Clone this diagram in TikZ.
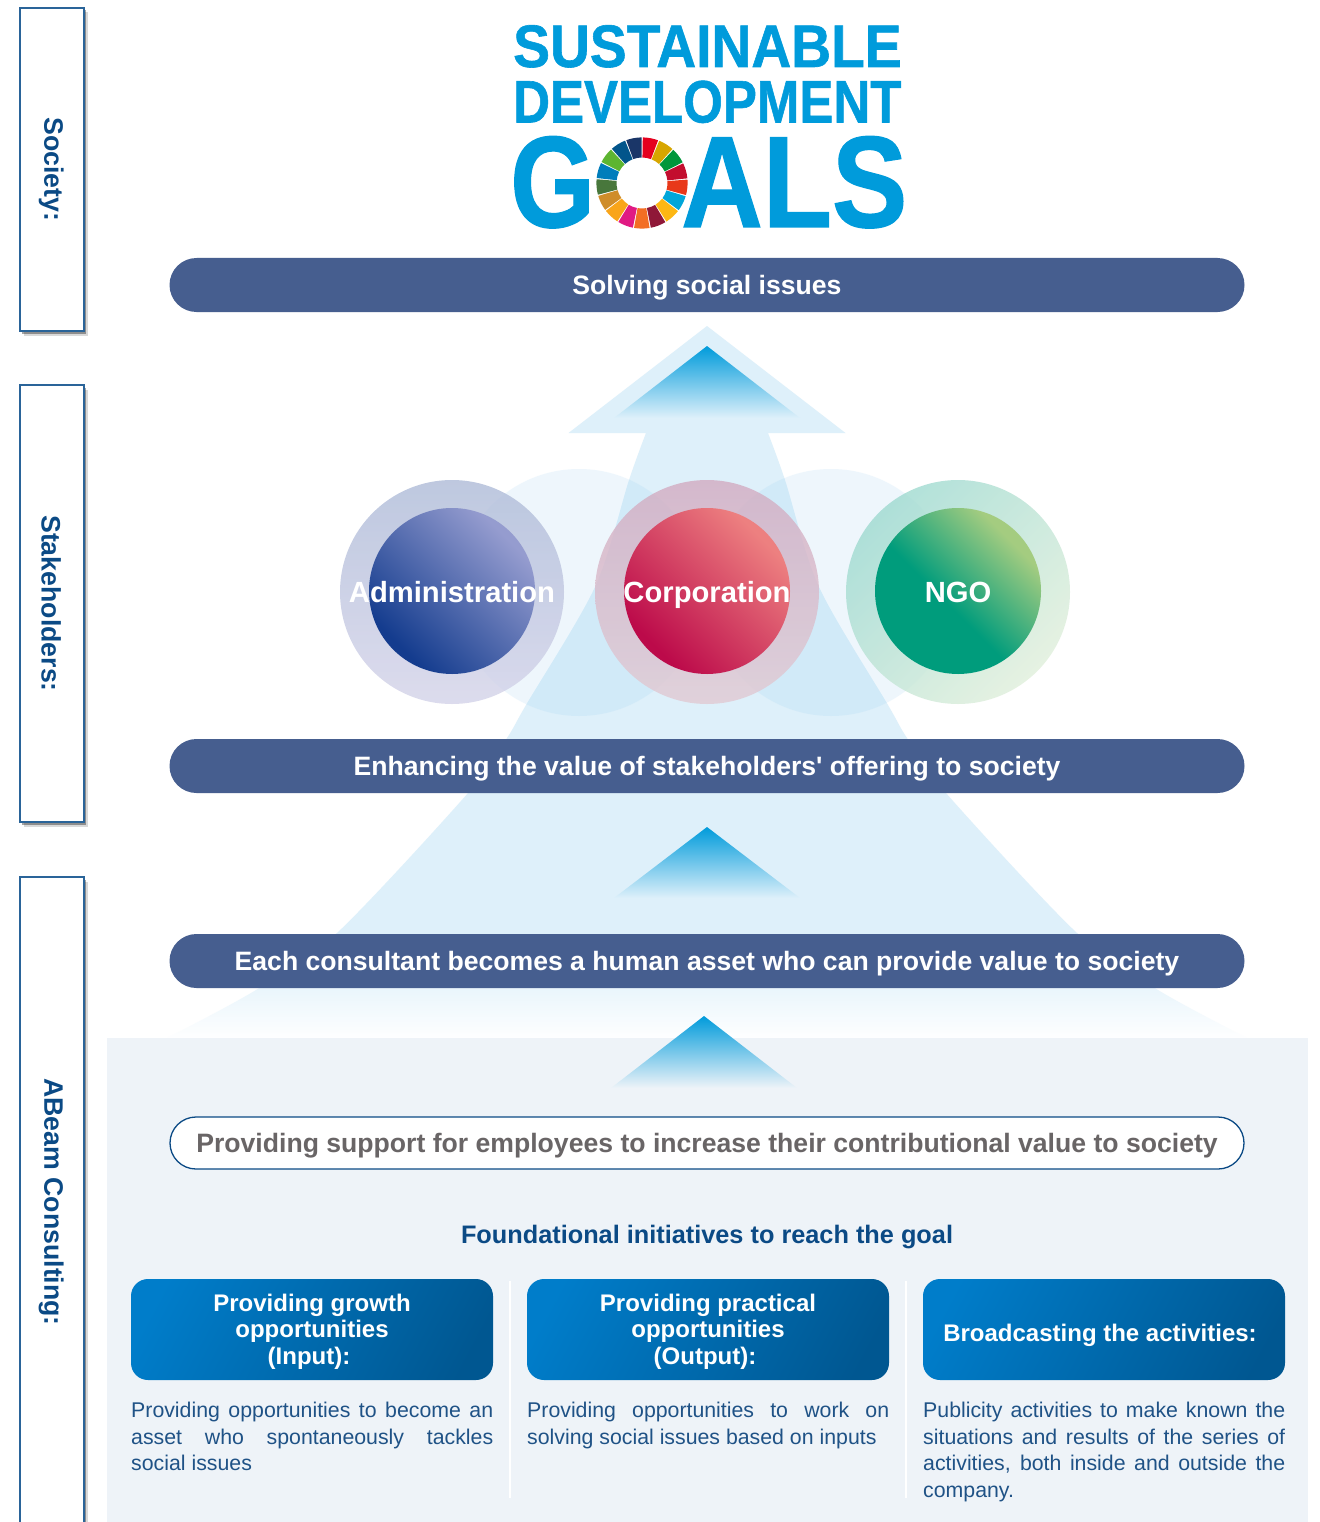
\documentclass[tikz,border=0pt]{standalone}
\usepackage{fontspec}
\setmainfont{Liberation Sans}
\newfontfamily\plainf{Liberation Sans}
\usetikzlibrary{shadows}
\definecolor{sdgblue}{HTML}{009BDB}
\definecolor{barblue}{HTML}{465E8F}
\definecolor{labelblue}{HTML}{0B4A85}
\definecolor{framblue}{HTML}{2A6499}
\definecolor{paleblue}{HTML}{DEF0FA}
\definecolor{panel}{HTML}{EEF3F8}
\definecolor{bodyblue}{HTML}{1F5286}
\definecolor{greytext}{HTML}{696566}
\definecolor{ghost}{HTML}{8DC9F1}
\definecolor{admA}{HTML}{143C8E}\definecolor{admB}{HTML}{959CCF}
\definecolor{corA}{HTML}{BC0A4A}\definecolor{corB}{HTML}{ED8080}
\definecolor{ngoA}{HTML}{009C7C}\definecolor{ngoB}{HTML}{A4CC80}
\definecolor{boxA}{HTML}{005791}\definecolor{boxB}{HTML}{007DCA}
\pgfdeclareverticalshading{admshade}{100bp}{color(0bp)=(admA);color(27bp)=(admA);color(73bp)=(admB);color(100bp)=(admB)}
\pgfdeclareverticalshading{corshade}{100bp}{color(0bp)=(corA);color(27bp)=(corA);color(73bp)=(corB);color(100bp)=(corB)}
\pgfdeclareverticalshading{ngoshade}{100bp}{color(0bp)=(ngoA);color(45bp)=(ngoA);color(72bp)=(ngoB);color(100bp)=(ngoB)}
\pgfdeclareverticalshading{boxshade}{100bp}{color(0bp)=(boxA);color(22bp)=(boxA);color(78bp)=(boxB);color(100bp)=(boxB)}
\newcommand{\fsz}[2]{\fontsize{#1}{#2}\selectfont}
\tikzset{
  pillbar/.style={draw=none,fill=barblue,rounded corners=27pt,minimum width=1075pt,minimum height=54pt,inner sep=0pt,text=white,text height=24pt,text depth=4.2pt,font=\fsz{26.6}{30}\bfseries},
  sidebox/.style={draw=framblue,line width=1.5pt,fill=white,minimum width=64pt,inner sep=0pt,text=labelblue,font=\fsz{26.7}{30}\bfseries,
    drop shadow={shadow xshift=3.5pt,shadow yshift=-4.5pt,opacity=.15,fill=black},
    drop shadow={shadow xshift=2pt,shadow yshift=-2.5pt,opacity=.35,fill=black}},
  bluebox/.style={draw=none,rounded corners=17pt,minimum width=362pt,minimum height=101pt,inner sep=0pt,shade,shading=boxshade,shading angle=62},
  boxlabel/.style={inner sep=0pt,text=white,align=center,font=\fsz{24}{26.6}\bfseries},
  bodytext/.style={inner sep=0pt,anchor=north west,align=left,text=bodyblue,font=\fsz{21.3}{26.6}\selectfont},
  logotext/.style={inner sep=0pt,anchor=base west,text=sdgblue},
  cirlabel/.style={inner sep=0pt,text=white,text height=21.5pt,text depth=0pt,font=\fsz{29.2}{32}\bfseries},
}
\begin{document}
\begin{tikzpicture}[x=1pt,y=1pt]
\useasboundingbox (0,0) rectangle (1319,-1522);
\fill[white] (0,0) rectangle (1319,-1522);

% big arrow
\begin{scope}
\clip (707,-326) -- (845.5,-433)
  -- plot[smooth,tension=.5] coordinates {(768,-433) (785,-480) (819,-587) (888,-705) (907,-738) (946,-793) (1077,-933) (1158,-990) (1247,-1038)}
  -- plot[smooth,tension=.5] coordinates {(167,-1038) (256,-990) (337,-933) (468,-793) (507,-738) (526,-705) (595,-587) (629,-480) (646,-433)}
  -- (568.5,-433) -- cycle;
\fill[paleblue] (100,-320) rectangle (1300,-960);
\shade[top color=paleblue,bottom color=white] (100,-960) rectangle (1300,-1040);
\end{scope}

% pale circles
\fill[ghost,opacity=.15] (579,-592.5) circle (123.5);
\fill[ghost,opacity=.15] (831,-592.5) circle (123.5);

% panel
\fill[panel] (107,-1038) rectangle (1308,-1522);

% rings
\definecolor{ra}{HTML}{AEBBD8}\definecolor{rb}{HTML}{D4D3E9}
\definecolor{rc}{HTML}{D2ABC1}\definecolor{rd}{HTML}{E1CAD3}
\definecolor{re}{HTML}{9EDAD0}\definecolor{rf}{HTML}{E0EFDB}
\shade[even odd rule,top color=ra,bottom color=rb,opacity=.8] (452,-592) circle (112) (452,-592) circle (82);
\shade[even odd rule,top color=rc,bottom color=rd,opacity=.8] (707,-592) circle (112) (707,-592) circle (82);
\shade[even odd rule,top color=re,bottom color=rf,shading angle=45,opacity=.8] (958,-592) circle (112) (958,-592) circle (82);

% inner circles
\shade[shading=admshade,shading angle=-45] (452,-591) circle (83);
\shade[shading=corshade,shading angle=-45] (707,-591) circle (83);
\shade[shading=ngoshade,shading angle=-45] (958,-591) circle (83);
\node[cirlabel] (adm) at (452,-592) {Administration};
\node[cirlabel] (corp) at (707,-592) {Corporation};
\node[cirlabel] (ngo) at (958,-592) {NGO};

% triangles
\shade[top color=sdgblue,bottom color=paleblue] (707,-346) -- (800,-418) -- (614,-418) -- cycle;
\shade[top color=sdgblue,bottom color=paleblue] (707,-827) -- (800,-898) -- (614,-898) -- cycle;
\shade[top color=sdgblue,bottom color=panel] (704,-1016) -- (797,-1088) -- (611,-1088) -- cycle;

% side boxes
\node[sidebox,minimum height=323pt] (society) at (52,-169.5) {\hspace*{-1.5pt}\rotatebox{-90}{Society:}};
\node[sidebox,minimum height=437pt] (stake) at (52,-603.5) {\hspace*{-1.5pt}\rotatebox{-90}{Stakeholders:}};
\node[sidebox,minimum height=650pt] (abeam) at (52,-1202) {\hspace*{-1.5pt}\rotatebox{-90}{ABeam Consulting:}};

% bars
\node[pillbar] (solve) at (707,-285) {Solving social issues};
\node[pillbar] (enh) at (707,-766) {Enhancing the value of stakeholders{\plainf\bfseries\char39} offering to society};
\node[pillbar] (each) at (707,-961) {Each consultant becomes a human asset who can provide value to society};
\node[pillbar,draw=labelblue,line width=1.3pt,fill=white,rounded corners=26pt,minimum width=1074pt,minimum height=52pt,text=greytext] (supp) at (707,-1143) {Providing support for employees to increase their contributional value to society};

\node[inner sep=0pt,text=labelblue,font=\fsz{25.3}{30}\bfseries] (found) at (707,-1237) {Foundational initiatives to reach the goal};

% dividers
\draw[white,line width=2pt] (510,-1281) -- (510,-1498);
\draw[white,line width=2pt] (906,-1281) -- (906,-1498);

% blue boxes
\node[bluebox] (b1) at (312,-1329.5) {};
\node[bluebox] (b2) at (708,-1329.5) {};
\node[bluebox] (b3) at (1104,-1329.5) {};
\node[boxlabel] (lb1) at ([yshift=-2pt]b1.center) {Providing growth\\opportunities\\(Input):\hspace*{6pt}};
\node[boxlabel] (lb2) at ([yshift=-2pt]b2.center) {Providing practical\\opportunities\\(Output):\hspace*{6pt}};
\node[boxlabel] (lb3) at ([yshift=-5.5pt]b3.center) {Broadcasting the activities:\hspace*{8pt}};

% body text
\node[bodytext] (t1) at (131,-1402) {\makebox[362pt][s]{Providing opportunities to become an}\\\makebox[362pt][s]{asset who spontaneously tackles}\\social issues};
\node[bodytext] (t2) at (527,-1402) {\makebox[362pt][s]{Providing opportunities to work on}\\solving social issues based on inputs};
\node[bodytext] (t3) at (923,-1402) {\makebox[362pt][s]{Publicity activities to make known the}\\\makebox[362pt][s]{situations and results of the series of}\\\makebox[362pt][s]{activities, both inside and outside the}\\company.};

% logo
\node[logotext,font=\fsz{60}{60}\bfseries\addfontfeature{FakeBold=1},xscale=.92] (l1) at (513,-67) {SUSTAINABLE};
\node[logotext,font=\fsz{60}{60}\bfseries\addfontfeature{FakeBold=1},xscale=.85] (l2) at (513,-122.5) {DEVELOPMENT};
\node[logotext,font=\fsz{130}{130}\bfseries\addfontfeature{FakeBold=1},xscale=.84] (l3) at (510,-227) {G};
\node[logotext,font=\fsz{130}{130}\bfseries\addfontfeature{FakeBold=1},xscale=.87] (l4) at (681,-227) {ALS};

% wheel
\foreach \i/\c in {0/E5001E,1/D7A600,2/00973B,3/C30E2E,4/E83819,5/00A6D9,6/FDB713,7/8F1838,8/F36E24,9/E01A83,10/F9A51A,11/CF8D2A,12/48773C,13/007DBB,14/5DB531,15/02558B,16/1A3668}{
  \definecolor{wc}{HTML}{\c}
  \pgfmathsetmacro{\aa}{89-21.176*\i}
  \pgfmathsetmacro{\bb}{\aa-19.6}
  \fill[wc,shift={(642,-183)}] (\aa:45.6) arc[start angle=\aa,end angle=\bb,radius=45.6] -- (\bb:25.5) arc[start angle=\bb,end angle=\aa,radius=25.5] -- cycle;
}
\end{tikzpicture}
\end{document}
